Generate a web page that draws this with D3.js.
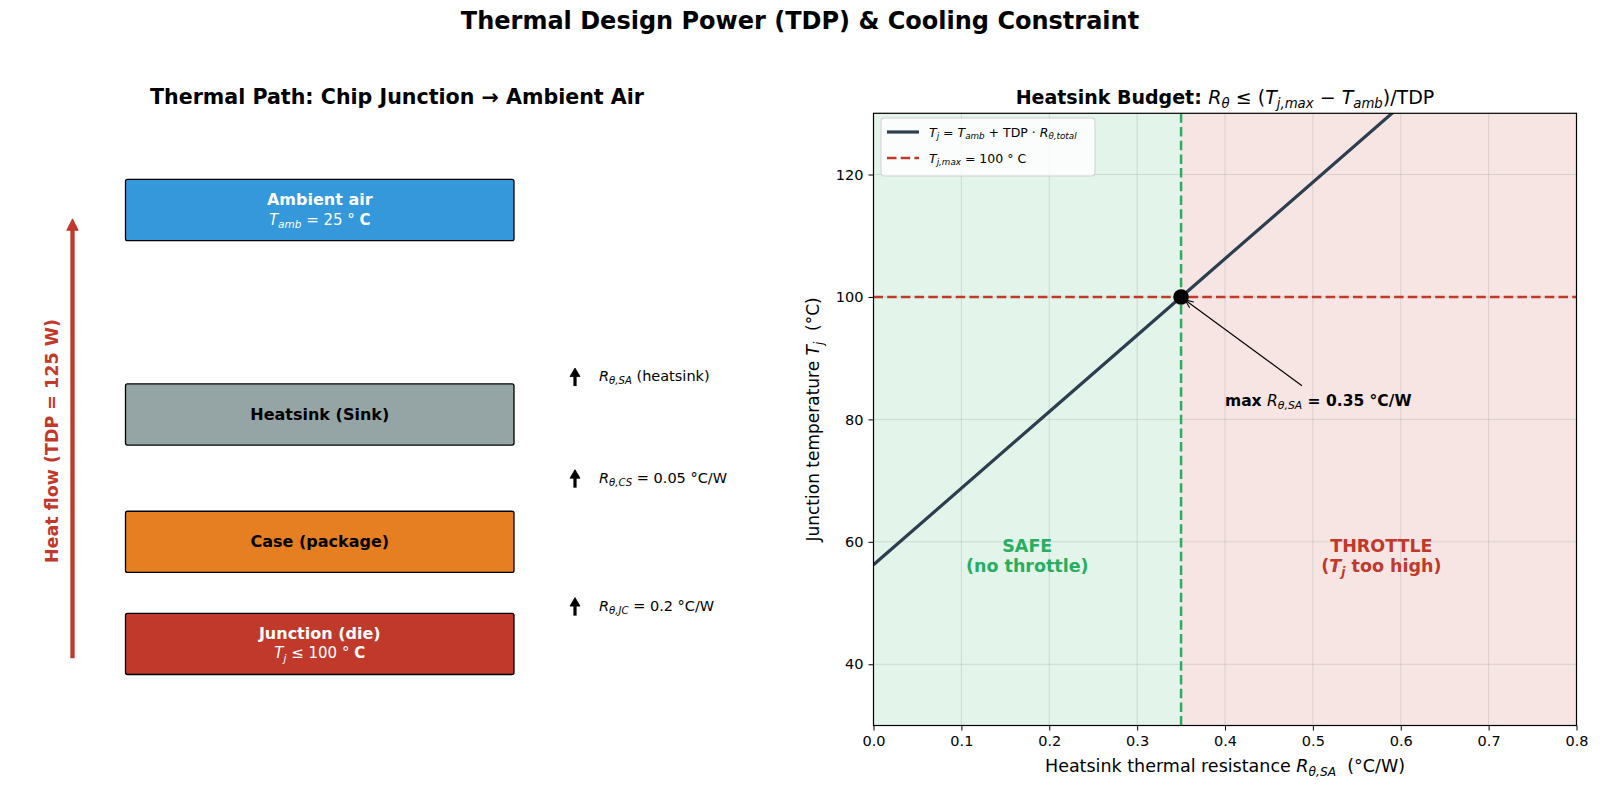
<!DOCTYPE html>
<html><head><meta charset="utf-8">
<script src="https://cdn.jsdelivr.net/npm/d3@7"></script>
<style>body{margin:0;background:#fff;overflow:hidden} svg{font-family:"DejaVu Sans",sans-serif} text{white-space:pre}</style>
</head><body><svg id="c" width="1600" height="792"></svg>
<script>
// ---------- data ----------
const rTicks = [0.0, 0.1, 0.2, 0.3, 0.4, 0.5, 0.6, 0.7, 0.8];
const tTicks = [40, 60, 80, 100, 120];
const curveR  = [0.0, 0.2, 0.35, 0.6, 0.8];
const curveTj = [56.25, 81.25, 100, 131.25, 156.25];
const tjMax = 100;
const rSaMax = 0.35;
const layerNames = ["Junction (die)", "Case (package)", "Heatsink (Sink)", "Ambient air"];
const layerSub = ["Tj100", null, null, "Tamb25"];
const resistNames = ["JC", "CS", "SA"];
const resistValues = ["0.2", "0.05", null];

// ---------- helpers ----------
const svg = d3.select("#c");
const C = {line:"#2c3e50", red:"#c0392b", green:"#27ae60"};

// parts: [text, flags] flags: i italic, s subscript, b bold
function rich(t, parts, size){
  let shifted = false;
  parts.forEach(([str, f]) => {
    f = f || "";
    const ts = t.append("tspan").text(str);
    if (f.includes("i")) ts.attr("font-style","italic");
    if (f.includes("b")) ts.attr("font-weight","bold");
    if (f.includes("s")) {
      ts.attr("font-size", size*0.7);
      if (!shifted) { ts.attr("dy", size*0.22); shifted = true; }
    } else {
      ts.attr("font-size", size);
      if (shifted) { ts.attr("dy", -size*0.22); shifted = false; }
    }
  });
  return t;
}

// ---------- main title ----------
svg.append("text").attr("x",800).attr("y",29).attr("text-anchor","middle")
  .attr("font-size",24).attr("font-weight","bold").text("Thermal Design Power (TDP) & Cooling Constraint");

// ---------- left panel ----------
const yL = d3.scaleLinear().domain([0,10]).range([725.5,113.3]);
const xL = d3.scaleLinear().domain([0,10]).range([20,760]);
svg.append("text").attr("x",397).attr("y",104).attr("text-anchor","middle")
  .attr("font-size",20.6).attr("font-weight","bold").text("Thermal Path: Chip Junction \u2192 Ambient Air");

const boxY0 = [0.833, 2.5, 4.58, 7.92];
const boxH = 1.0;
const boxColors = ["#c0392b", "#e67e22", "#95a5a6", "#3498db"];
const boxText = ["#fff", "#000", "#000", "#fff"];
const bx0 = xL.invert(125.5), bx1 = xL.invert(514);
layerNames.forEach((name,i)=>{
  const y0 = yL(boxY0[i]+boxH), y1 = yL(boxY0[i]);
  svg.append("rect").attr("x",xL(bx0)).attr("y",y0).attr("width",xL(bx1)-xL(bx0)).attr("height",y1-y0)
    .attr("rx",2).attr("fill",boxColors[i]).attr("stroke","#000").attr("stroke-width",1.3);
  const cx = (xL(bx0)+xL(bx1))/2, cy = (y0+y1)/2;
  if (layerSub[i]) {
    svg.append("text").attr("x",cx).attr("y",cy-5).attr("text-anchor","middle").attr("fill",boxText[i])
      .attr("font-size",16).attr("font-weight","bold").text(name);
    const t = svg.append("text").attr("x",cx).attr("y",cy+14.5).attr("text-anchor","middle").attr("fill",boxText[i]);
    if (layerSub[i]==="Tamb25") rich(t, [["T","i"],["amb","is"],[" = 25 \u00B0 "],["C","b"]], 15);
    else rich(t, [["T","i"],["j","is"],[" \u2264 100 \u00B0 "],["C","b"]], 15);
  } else {
    svg.append("text").attr("x",cx).attr("y",cy+5.5).attr("text-anchor","middle").attr("fill",boxText[i])
      .attr("font-size",16).attr("font-weight","bold").text(name);
  }
});

// heat flow arrow
const hx = 72.5, hy0 = yL(1.10), hy1 = yL(8.27);
svg.append("line").attr("x1",hx).attr("x2",hx).attr("y1",hy0).attr("y2",hy1+9)
  .attr("stroke",C.red).attr("stroke-width",4.3);
svg.append("path").attr("d",`M${hx-5.5},${hy1+11} L${hx},${hy1} L${hx+5.5},${hy1+11} Z`)
  .attr("fill",C.red).attr("stroke",C.red).attr("stroke-width",1.2).attr("stroke-linejoin","round");
svg.append("text").attr("transform",`translate(58,441) rotate(-90)`).attr("text-anchor","middle")
  .attr("fill",C.red).attr("font-size",17.5).attr("font-weight","bold").text("Heat flow (TDP = 125 W)");

// resistance arrows
const rCenters = [1.95, 4.04, 5.70];
resistNames.forEach((n,i)=>{
  const cy = yL(rCenters[i]), ax = 575;
  svg.append("line").attr("x1",ax).attr("x2",ax).attr("y1",cy+9.5).attr("y2",cy-2)
    .attr("stroke","#000").attr("stroke-width",3.2);
  svg.append("path").attr("d",`M${ax-5},${cy} L${ax},${cy-8.5} L${ax+5},${cy} Z`)
    .attr("fill","#000").attr("stroke","#000").attr("stroke-width",0.8).attr("stroke-linejoin","round");
  const t = svg.append("text").attr("x",599).attr("y",cy+4.5);
  const parts = [["R","i"],["\u03B8,"+n,"is"]];
  if (resistValues[i]) parts.push([" = "+resistValues[i]+" \u00B0C/W"]);
  else parts.push([" (heatsink)"]);
  rich(t, parts, 14.5);
});

// ---------- right panel ----------
const m = {l:873.5, r:1576.5, t:113.3, b:725.5};
const x = d3.scaleLinear().domain([0,0.8]).range([m.l,m.r]);
const y = d3.scaleLinear().domain([30,130]).range([m.b,m.t]);

const clipId = "clipR";
svg.append("defs").append("clipPath").attr("id",clipId).append("rect")
  .attr("x",m.l).attr("y",m.t).attr("width",m.r-m.l).attr("height",m.b-m.t);

const g = svg.append("g").attr("clip-path",`url(#${clipId})`);
g.append("rect").attr("x",x(0)).attr("y",m.t).attr("width",x(rSaMax)-x(0)).attr("height",m.b-m.t)
  .attr("fill",C.green).attr("fill-opacity",0.13);
g.append("rect").attr("x",x(rSaMax)).attr("y",m.t).attr("width",x(0.8)-x(rSaMax)).attr("height",m.b-m.t)
  .attr("fill",C.red).attr("fill-opacity",0.13);

// grid
g.selectAll(".gx").data(rTicks).enter().append("line")
  .attr("x1",d=>x(d)).attr("x2",d=>x(d)).attr("y1",m.t).attr("y2",m.b)
  .attr("stroke","#b0b0b0").attr("stroke-opacity",0.5).attr("stroke-width",0.8);
g.selectAll(".gy").data(tTicks).enter().append("line")
  .attr("y1",d=>y(d)).attr("y2",d=>y(d)).attr("x1",m.l).attr("x2",m.r)
  .attr("stroke","#b0b0b0").attr("stroke-opacity",0.5).attr("stroke-width",0.8);

// region labels
const safe = g.append("text").attr("text-anchor","middle").attr("fill",C.green).attr("font-size",17.5).attr("font-weight","bold");
safe.append("tspan").attr("x",x(0.175)).attr("y",y(58.3)).text("SAFE");
safe.append("tspan").attr("x",x(0.175)).attr("y",y(55.0)).text("(no throttle)");
const thr = g.append("text").attr("text-anchor","middle").attr("fill",C.red).attr("font-size",17.5).attr("font-weight","bold");
thr.append("tspan").attr("x",x(0.578)).attr("y",y(58.3)).text("THROTTLE");
rich(thr.append("tspan").attr("x",x(0.578)).attr("y",y(55.0)), [["("],["T","i"],["j","is"],[" too high)"]], 17.5);

// reference lines
g.append("line").attr("x1",m.l).attr("x2",m.r).attr("y1",y(tjMax)).attr("y2",y(tjMax))
  .attr("stroke",C.red).attr("stroke-width",2.5).attr("stroke-dasharray","9.5,4.2");
g.append("line").attr("x1",x(rSaMax)).attr("x2",x(rSaMax)).attr("y1",m.t).attr("y2",m.b)
  .attr("stroke",C.green).attr("stroke-width",2.5).attr("stroke-dasharray","9.5,4.2");

// curve
const pts = curveR.map((r,i)=>[r,curveTj[i]]);
g.append("path").datum(pts).attr("d",d3.line().x(d=>x(d[0])).y(d=>y(d[1])))
  .attr("fill","none").attr("stroke",C.line).attr("stroke-width",3.2);

// point
svg.append("circle").attr("cx",x(rSaMax)).attr("cy",y(tjMax)).attr("r",7.8).attr("fill","#000");

// annotation
const px = x(rSaMax)+4, py = y(tjMax)+3;
const ax0 = x(0.4876), ay0 = y(85.5);
svg.append("line").attr("x1",ax0).attr("y1",ay0).attr("x2",px).attr("y2",py).attr("stroke","#000").attr("stroke-width",1.1);
{
  const ang = Math.atan2(ay0-py, ax0-px);
  const hl = 9, ha = 0.4;
  svg.append("path").attr("d",`M${px+hl*Math.cos(ang-ha)},${py+hl*Math.sin(ang-ha)} L${px},${py} L${px+hl*Math.cos(ang+ha)},${py+hl*Math.sin(ang+ha)}`)
    .attr("fill","none").attr("stroke","#000").attr("stroke-width",1.1);
}
rich(svg.append("text").attr("x",x(0.40)).attr("y",y(82.2)),
  [["max ","b"],["R","i"],["\u03B8,SA","is"],[" = 0.35 \u00B0C/W","b"]], 15.5);

// axes
const xa = svg.append("g").attr("transform",`translate(0,${m.b})`)
  .call(d3.axisBottom(x).tickValues(rTicks).tickFormat(d3.format(".1f")).tickSizeOuter(0).tickSize(5).tickPadding(5));
const ya = svg.append("g").attr("transform",`translate(${m.l},0)`)
  .call(d3.axisLeft(y).tickValues(tTicks).tickSizeOuter(0).tickSize(5).tickPadding(5));
[xa,ya].forEach(a=>{
  a.selectAll("text").attr("font-size",14.5).attr("font-family","DejaVu Sans").attr("fill","#000");
  a.selectAll("line").attr("stroke","#000");
  a.select(".domain").remove();
});
svg.append("rect").attr("x",m.l).attr("y",m.t).attr("width",m.r-m.l).attr("height",m.b-m.t)
  .attr("fill","none").attr("stroke","#000").attr("stroke-width",1.2);

// axis labels
rich(svg.append("text").attr("x",(m.l+m.r)/2).attr("y",772).attr("text-anchor","middle"),
  [["Heatsink thermal resistance "],["R","i"],["\u03B8,SA","is"],["  (\u00B0C/W)"]], 17.5);
rich(svg.append("text").attr("transform",`translate(819,${(m.t+m.b)/2}) rotate(-90)`).attr("text-anchor","middle"),
  [["Junction temperature "],["T","i"],["j","is"],["  (\u00B0C)"]], 17);

// right title
rich(svg.append("text").attr("x",(m.l+m.r)/2).attr("y",104).attr("text-anchor","middle"),
  [["Heatsink Budget: ","b"],["R","i"],["\u03B8","is"],[" \u2264 ("],["T","i"],["j,max","is"],[" \u2212 "],["T","i"],["amb","is"],[")/TDP"]], 19);

// legend
const lg = svg.append("g");
lg.append("rect").attr("x",881).attr("y",118).attr("width",214).attr("height",58).attr("rx",3)
  .attr("fill","#fff").attr("fill-opacity",0.8).attr("stroke","#d0d0d0").attr("stroke-width",1);
lg.append("line").attr("x1",887).attr("x2",919).attr("y1",132).attr("y2",132).attr("stroke",C.line).attr("stroke-width",3.2);
lg.append("line").attr("x1",887).attr("x2",919).attr("y1",158).attr("y2",158).attr("stroke",C.red).attr("stroke-width",2.5).attr("stroke-dasharray","9.5,4.2");
rich(lg.append("text").attr("x",929).attr("y",136.5),
  [["T","i"],["j","is"],[" = "],["T","i"],["amb","is"],[" + TDP \u00B7 "],["R","i"],["\u03B8,total","is"]], 12.5);
rich(lg.append("text").attr("x",929).attr("y",162.5),
  [["T","i"],["j,max","is"],[" = 100 \u00B0 C"]], 12.5);
</script></body></html>
